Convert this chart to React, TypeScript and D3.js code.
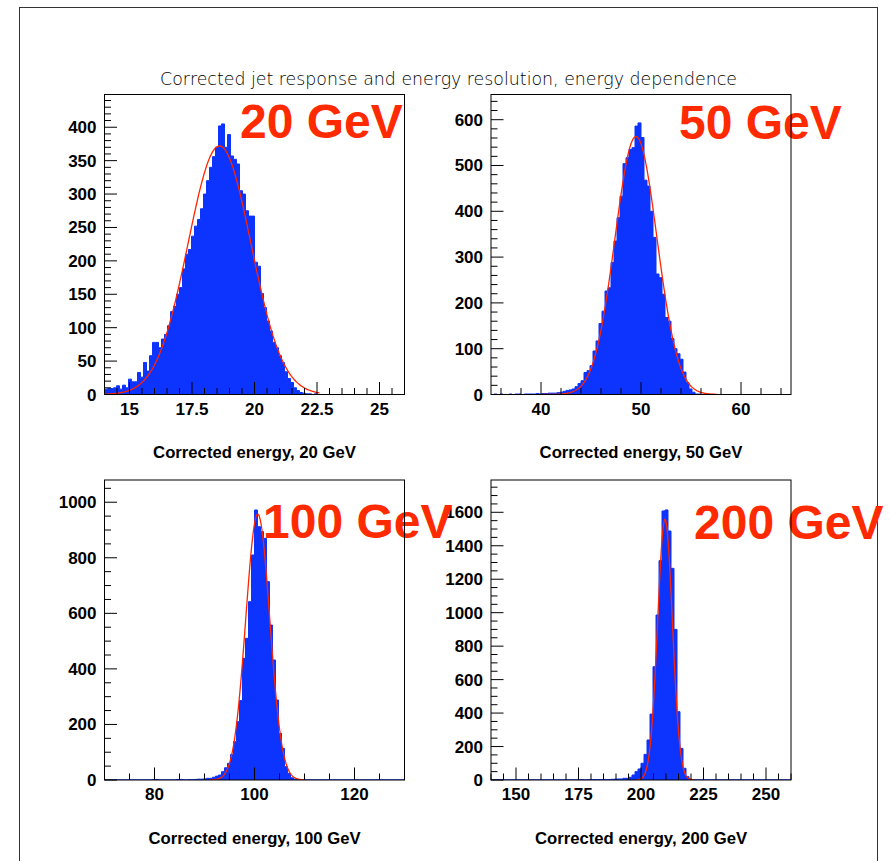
import React from 'react';
import * as d3 from 'd3';

// Bin contents (100 equal bins per histogram)
const counts20 = [
  8, 9, 9, 10, 13, 8, 14, 10, 23, 19,
  19, 33, 26, 48, 35, 58, 78, 78, 70, 83,
  90, 103, 124, 132, 150, 160, 188, 210, 217, 237,
  252, 262, 278, 300, 320, 340, 356, 370, 402, 405,
  370, 389, 357, 352, 345, 305, 300, 275, 267, 267,
  198, 192, 151, 130, 110, 95, 78, 70, 58, 48,
  34, 24, 18, 10, 6, 3, 2, 1, 1, 0,
  1, 0, 0, 0, 0, 0, 0, 0, 0, 0,
  0, 0, 0, 0, 0, 0, 0, 0, 0, 0,
  0, 0, 0, 0, 0, 0, 0, 0, 0, 0,
];

const counts50 = [
  0, 1, 0, 1, 0, 0, 1, 0, 1, 1,
  0, 1, 1, 1, 1, 2, 1, 2, 2, 3,
  3, 3, 4, 5, 7, 9, 10, 12, 17, 24,
  30, 48, 52, 63, 95, 117, 155, 182, 226, 233,
  288, 335, 386, 433, 504, 517, 535, 539, 586, 593,
  561, 468, 455, 400, 343, 263, 255, 219, 168, 160,
  122, 100, 89, 77, 49, 26, 12, 5, 1, 1,
  0, 0, 0, 0, 0, 0, 0, 0, 0, 0,
  0, 0, 0, 0, 0, 0, 0, 0, 0, 0,
  0, 0, 0, 0, 0, 0, 0, 0, 0, 0,
];

const counts100 = [
  0, 0, 0, 0, 0, 0, 0, 0, 0, 0,
  0, 0, 0, 0, 0, 0, 1, 2, 0, 0,
  0, 0, 0, 0, 2, 2, 0, 0, 1, 1,
  2, 3, 3, 4, 6, 6, 10, 14, 18, 30,
  44, 60, 92, 138, 210, 286, 438, 510, 642, 810,
  972, 912, 894, 870, 714, 558, 432, 288, 168, 114,
  48, 24, 8, 3, 1, 0, 0, 0, 0, 0,
  0, 0, 0, 0, 0, 0, 0, 0, 0, 0,
  0, 0, 0, 0, 0, 0, 0, 0, 0, 0,
  0, 0, 0, 0, 0, 0, 0, 0, 0, 0,
];

const counts200 = [
  0, 0, 0, 0, 0, 0, 0, 0, 0, 0,
  0, 0, 0, 0, 0, 0, 0, 0, 0, 0,
  0, 0, 0, 0, 0, 0, 0, 0, 0, 0,
  1, 0, 1, 1, 2, 1, 3, 3, 2, 3,
  4, 5, 6, 6, 10, 10, 16, 30, 50, 66,
  100, 153, 239, 394, 677, 986, 1311, 1608, 1614, 1488,
  1265, 900, 408, 189, 70, 20, 4, 1, 0, 0,
  0, 0, 0, 0, 0, 0, 0, 0, 0, 0,
  0, 0, 0, 0, 0, 0, 0, 0, 0, 0,
  0, 0, 0, 0, 0, 0, 0, 0, 0, 0,
];

const histograms = [counts20, counts50, counts100, counts200];

const chartTitle = 'Corrected jet response and energy resolution, energy dependence';
const panelLabels = ['20 GeV', '50 GeV', '100 GeV', '200 GeV'];
const axisTitles = [
  'Corrected energy, 20 GeV',
  'Corrected energy, 50 GeV',
  'Corrected energy, 100 GeV',
  'Corrected energy, 200 GeV',
];

// Axis ranges and tick spacing
const xDomains = [[14, 26], [35, 65], [70, 130], [140, 260]];
const yMaxima = [449, 655, 1080, 1793];
const xMajorTicks = [
  [15, 17.5, 20, 22.5, 25],
  [40, 50, 60],
  [80, 100, 120],
  [150, 175, 200, 225, 250],
];
const xMinorSteps = [0.5, 2, 5, 5];
const yMajorSteps = [50, 100, 200, 200];
const yMinorSteps = [10, 20, 50, 50];

// Gaussian fit parameters
const fitAmplitude = [372, 563, 957, 1558];
const fitMean = [18.6, 49.5, 100.65, 209.6];
const fitSigma = [1.26, 2.1, 2.4, 2.95];
const fitRange = [[14, 22.6], [40, 57.6], [91, 110.3], [198, 221.4]];

// Layout
const W = 890;
const H = 861;
const PLOT = 300;
const panelOrigins = [[104.5, 94.5], [491, 94.5], [104.5, 480], [491, 480]];
const labelAnchors = [[240, 138], [679, 139], [263, 538], [694, 539]];
const MAJOR = 12.5;
const MINOR = 6.5;

const BLUE = '#0d33ff';
const RED = '#ff2a00';
const FIT = '#ff2400';
const BOLD = "'Liberation Sans', Arial, Helvetica, sans-serif";

function stepsBetween(lo: number, hi: number, step: number): number[] {
  const out: number[] = [];
  const n0 = Math.ceil(lo / step - 1e-9);
  const n1 = Math.floor(hi / step + 1e-9);
  for (let n = n0; n <= n1; n++) out.push(+(n * step).toFixed(6));
  return out;
}

function Panel({ idx }: { idx: number }) {
  const [x0, y0] = panelOrigins[idx];
  const [lo, hi] = xDomains[idx];
  const counts = histograms[idx];
  const x = d3.scaleLinear().domain([lo, hi]).range([x0, x0 + PLOT]);
  const y = d3.scaleLinear().domain([0, yMaxima[idx]]).range([y0 + PLOT, y0]);

  const binW = (hi - lo) / counts.length;
  const p = d3.path();
  p.moveTo(x(lo), y(0));
  counts.forEach((c, i) => {
    p.lineTo(x(lo + i * binW), y(c));
    p.lineTo(x(lo + (i + 1) * binW), y(c));
  });
  p.lineTo(x(hi), y(0));
  p.closePath();

  const [f0, f1] = fitRange[idx];
  const gauss = (v: number) =>
    fitAmplitude[idx] * Math.exp(-0.5 * ((v - fitMean[idx]) / fitSigma[idx]) ** 2);
  const fitPts = d3.range(0, 401).map((k) => f0 + ((f1 - f0) * k) / 400);
  const fitLine = d3
    .line<number>()
    .x((v) => x(v))
    .y((v) => y(gauss(v)))
    .curve(d3.curveLinear)(fitPts);

  const xMinor = stepsBetween(lo, hi, xMinorSteps[idx]).filter(
    (v) => !xMajorTicks[idx].some((m) => Math.abs(m - v) < 1e-6)
  );
  const yMajor = stepsBetween(0, yMaxima[idx], yMajorSteps[idx]);
  const yMinor = stepsBetween(0, yMaxima[idx], yMinorSteps[idx]).filter(
    (v) => !yMajor.some((m) => Math.abs(m - v) < 1e-6)
  );
  const base = y0 + PLOT;
  const clipId = `plot-clip-${idx}`;

  return (
    <g>
      <defs>
        <clipPath id={clipId}>
          <rect x={x0} y={y0} width={PLOT} height={PLOT} />
        </clipPath>
      </defs>
      <g clipPath={`url(#${clipId})`}>
        <path d={p.toString()} fill={BLUE} stroke={BLUE} strokeWidth={1} />
        <path d={fitLine ?? ''} fill="none" stroke={FIT} strokeWidth={1.3} />
      </g>
      {/* x axis ticks */}
      {xMajorTicks[idx].map((v) => (
        <line key={`xM${v}`} x1={x(v)} x2={x(v)} y1={base} y2={base - MAJOR} stroke="#000" strokeWidth={1} />
      ))}
      {xMinor.map((v) => (
        <line key={`xm${v}`} x1={x(v)} x2={x(v)} y1={base} y2={base - MINOR} stroke="#000" strokeWidth={1} />
      ))}
      {xMajorTicks[idx].map((v) => (
        <text key={`xl${v}`} x={x(v)} y={base + 20} textAnchor="middle" fontFamily={BOLD} fontWeight="bold" fontSize={17} fill="#000">
          {String(v)}
        </text>
      ))}
      {/* y axis ticks */}
      {yMajor.map((v) => (
        <line key={`yM${v}`} x1={x0} x2={x0 + MAJOR} y1={y(v)} y2={y(v)} stroke="#000" strokeWidth={1} />
      ))}
      {yMinor.map((v) => (
        <line key={`ym${v}`} x1={x0} x2={x0 + MINOR} y1={y(v)} y2={y(v)} stroke="#000" strokeWidth={1} />
      ))}
      {yMajor.map((v) => (
        <text key={`yl${v}`} x={x0 - 8} y={y(v) + 6} textAnchor="end" fontFamily={BOLD} fontWeight="bold" fontSize={17} fill="#000">
          {String(v)}
        </text>
      ))}
      <text x={x0 + PLOT / 2} y={base + 63.5} textAnchor="middle" fontFamily={BOLD} fontWeight="bold" fontSize={16.7} fill="#000">
        {axisTitles[idx]}
      </text>
    </g>
  );
}

export default function App() {
  return (
    <svg
      width={W}
      height={H}
      viewBox={`0 0 ${W} ${H}`}
      style={{ position: 'absolute', left: 0, top: 0, background: '#fff' }}
    >
      <rect x={0} y={0} width={W} height={H} fill="#fff" />
      <rect x={19.5} y={7.5} width={858} height={H + 20} fill="none" stroke="#333" strokeWidth={1} />
      <text
        x={448.5}
        y={85}
        textAnchor="middle"
        fontFamily="'DejaVu Sans', sans-serif"
        fontWeight={300}
        fontSize={17}
        textLength={577}
        lengthAdjust="spacingAndGlyphs"
        fill="#000"
      >
        {chartTitle}
      </text>
      {panelOrigins.map((_, i) => (
        <Panel key={i} idx={i} />
      ))}
      {panelLabels.map((lab, i) => (
        <text
          key={lab}
          x={labelAnchors[i][0]}
          y={labelAnchors[i][1]}
          fontFamily={BOLD}
          fontWeight="bold"
          fontSize={48}
          fill={RED}
        >
          {lab}
        </text>
      ))}
      {panelOrigins.map(([px, py], i) => (
        <rect key={`f${i}`} x={px} y={py} width={PLOT} height={PLOT} fill="none" stroke="#000" strokeWidth={1} />
      ))}
    </svg>
  );
}
